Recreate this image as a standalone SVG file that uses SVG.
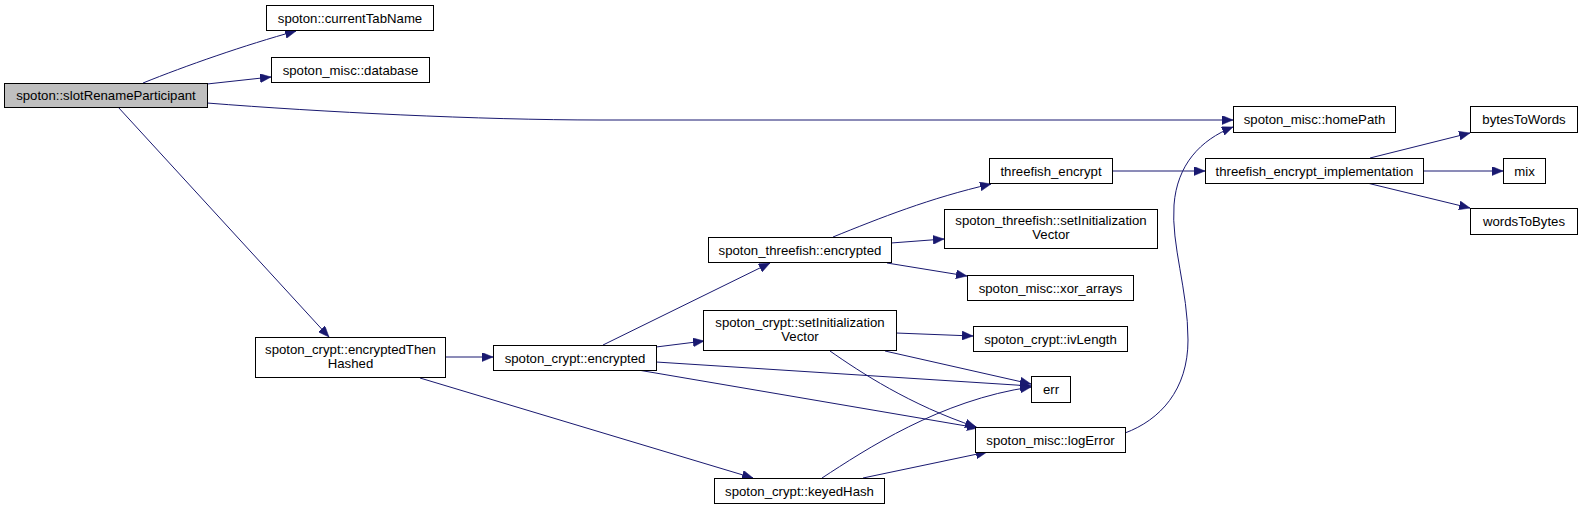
<svg xmlns="http://www.w3.org/2000/svg" width="1583" height="509" viewBox="0 0 1583 509">
<style>
.n rect{fill:#fff;stroke:#000;stroke-width:1}
.n text{font-family:"Liberation Sans",Arial,sans-serif;font-size:13.2px;fill:#000;text-anchor:middle}
#n0 rect{fill:#bfbfbf}
.e path{fill:none;stroke:#191970;stroke-width:1;marker-end:url(#ah)}
</style>
<defs>
<marker id="ah" markerWidth="12" markerHeight="9" refX="11" refY="4.5" orient="auto" markerUnits="userSpaceOnUse">
<path d="M0,0 L11,4.5 L0,9 z" fill="#191970" stroke="#191970" stroke-width="0.5"/>
</marker>
</defs>
<rect width="1583" height="509" fill="#fff"/>
<g class="e">
<path d="M143,83 C185,66 245,45 296,31"/>
<path d="M207,84 L271,77"/>
<path d="M207,103 C320,112 480,120 600,120 L1233,120"/>
<path d="M118,107 L329,337"/>
<path d="M445,357 L493,357"/>
<path d="M420,378 L753,478"/>
<path d="M603,345 L770,263"/>
<path d="M656,347 L704,341"/>
<path d="M656,362 L1031,386"/>
<path d="M638,370 L978,428"/>
<path d="M833,237 C880,218 930,198 991,184"/>
<path d="M891,243 L944,239"/>
<path d="M887,263 L967,276"/>
<path d="M896,333 L973,336"/>
<path d="M885,351 L1031,384"/>
<path d="M830,351 C860,372 910,405 976,427"/>
<path d="M822,478 C865,450 940,400 1031,387"/>
<path d="M863,478 L987,452"/>
<path d="M1125,433 C1160,420 1188,390 1188,340 C1188,290 1171,245 1174,205 C1177,165 1200,140 1233,127"/>
<path d="M1112,171 L1205,171"/>
<path d="M1370,158 L1470,133"/>
<path d="M1423,171 L1503,171"/>
<path d="M1367,183 L1470,208"/>
</g>
<g id="n0" class="n"><rect x="4.5" y="83.5" width="203" height="24"/><text x="106" y="100">spoton::slotRenameParticipant</text></g>
<g id="n1" class="n"><rect x="266.5" y="5.5" width="167" height="25"/><text x="350" y="22.5">spoton::currentTabName</text></g>
<g id="n2" class="n"><rect x="271.5" y="57.5" width="158" height="25"/><text x="350.5" y="74.5">spoton_misc::database</text></g>
<g id="n3" class="n"><rect x="1233.5" y="106.5" width="162" height="26"/><text x="1314.5" y="124">spoton_misc::homePath</text></g>
<g id="n4" class="n"><rect x="255.5" y="337.5" width="190" height="40"/><text x="350.5" y="353.5">spoton_crypt::encryptedThen</text><text x="350.5" y="367.5">Hashed</text></g>
<g id="n5" class="n"><rect x="493.5" y="345.5" width="163" height="25"/><text x="575" y="362.5">spoton_crypt::encrypted</text></g>
<g id="n6" class="n"><rect x="708.5" y="237.5" width="183" height="25"/><text x="800" y="254.5">spoton_threefish::encrypted</text></g>
<g id="n7" class="n"><rect x="703.5" y="310.5" width="193" height="40"/><text x="800" y="326.5">spoton_crypt::setInitialization</text><text x="800" y="340.5">Vector</text></g>
<g id="n8" class="n"><rect x="714.5" y="478.5" width="170" height="25"/><text x="799.5" y="495.5">spoton_crypt::keyedHash</text></g>
<g id="n9" class="n"><rect x="989.5" y="158.5" width="123" height="25"/><text x="1051" y="175.5">threefish_encrypt</text></g>
<g id="n10" class="n"><rect x="944.5" y="209.5" width="213" height="39"/><text x="1051" y="225">spoton_threefish::setInitialization</text><text x="1051" y="239">Vector</text></g>
<g id="n11" class="n"><rect x="967.5" y="275.5" width="166" height="25"/><text x="1050.5" y="292.5">spoton_misc::xor_arrays</text></g>
<g id="n12" class="n"><rect x="973.5" y="326.5" width="154" height="25"/><text x="1050.5" y="343.5">spoton_crypt::ivLength</text></g>
<g id="n13" class="n"><rect x="1031.5" y="376.5" width="39" height="26"/><text x="1051" y="394">err</text></g>
<g id="n14" class="n"><rect x="975.5" y="427.5" width="150" height="25"/><text x="1050.5" y="444.5">spoton_misc::logError</text></g>
<g id="n15" class="n"><rect x="1205.5" y="158.5" width="218" height="25"/><text x="1314.5" y="175.5">threefish_encrypt_implementation</text></g>
<g id="n16" class="n"><rect x="1470.5" y="106.5" width="107" height="26"/><text x="1524" y="124">bytesToWords</text></g>
<g id="n17" class="n"><rect x="1503.5" y="158.5" width="42" height="25"/><text x="1524.5" y="175.5">mix</text></g>
<g id="n18" class="n"><rect x="1470.5" y="208.5" width="107" height="26"/><text x="1524" y="226">wordsToBytes</text></g>
</svg>
